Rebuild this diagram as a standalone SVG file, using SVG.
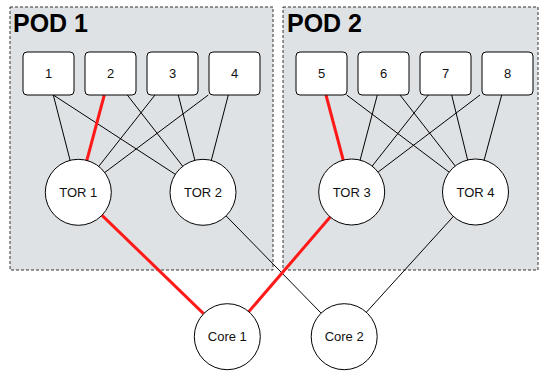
<svg xmlns="http://www.w3.org/2000/svg" width="540" height="373" viewBox="0 0 540 373">
  <style>
    .pod { fill: #dfe2e4; stroke: #333; stroke-width: 1; stroke-dasharray: 3 2; }
    .pod-label { font-family: "Liberation Sans", Arial, sans-serif; font-weight: bold; font-size: 25px; fill: #000; }
    .srv rect { fill: #fff; stroke: #000; stroke-width: 1; }
    .node circle { fill: #fff; stroke: #000; stroke-width: 1; }
    .lbl { font-family: "Liberation Sans", Arial, sans-serif; font-size: 13px; fill: #111; text-anchor: middle; dominant-baseline: central; }
    .link { stroke: #000; stroke-width: 1; fill: none; }
    .hot { stroke: #ff1a1a; stroke-width: 3; fill: none; }
  </style>

  <!-- pod containers -->
  <g id="pod1">
    <rect class="pod" x="10" y="7" width="263" height="263"/>
    <text class="pod-label" x="13" y="32">POD 1</text>
  </g>
  <g id="pod2">
    <rect class="pod" x="283" y="7" width="255" height="263"/>
    <text class="pod-label" x="287" y="32">POD 2</text>
  </g>

  <!-- links (drawn towards node centres, nodes painted on top) -->
  <g id="connectors">
    <!-- pod 1: servers to TOR 1 / TOR 2 -->
    <line class="link" x1="53.3" y1="95" x2="78.3" y2="192.3"/>
    <line class="link" x1="53.3" y1="95" x2="203" y2="192.3"/>
    <line class="link" x1="127.3" y1="95" x2="203" y2="192.3"/>
    <line class="link" x1="155" y1="95" x2="78.3" y2="192.3"/>
    <line class="link" x1="178.3" y1="95" x2="203" y2="192.3"/>
    <line class="link" x1="208.3" y1="95" x2="78.3" y2="192.3"/>
    <line class="link" x1="228.3" y1="95" x2="203" y2="192.3"/>
    <!-- pod 2: servers to TOR 3 / TOR 4 -->
    <line class="link" x1="346.7" y1="95" x2="475.5" y2="192"/>
    <line class="link" x1="377.3" y1="95" x2="351.7" y2="192"/>
    <line class="link" x1="400" y1="95" x2="475.5" y2="192"/>
    <line class="link" x1="428.3" y1="95" x2="351.7" y2="192"/>
    <line class="link" x1="451.7" y1="95" x2="475.5" y2="192"/>
    <line class="link" x1="480" y1="95" x2="351.7" y2="192"/>
    <line class="link" x1="501.7" y1="95" x2="475.5" y2="192"/>
    <!-- TORs to core -->
    <line class="link" x1="203" y1="192.3" x2="344.2" y2="336.7"/>
    <line class="link" x1="475.5" y1="192" x2="344.2" y2="336.7"/>
    <!-- highlighted path -->
    <line class="hot" x1="104.3" y1="95" x2="78.3" y2="192.3"/>
    <line class="hot" x1="78.3" y1="192.3" x2="227.3" y2="336.7"/>
    <line class="hot" x1="351.7" y1="192" x2="227.3" y2="336.7"/>
    <line class="hot" x1="326" y1="95" x2="351.7" y2="192"/>
  </g>

  <!-- servers -->
  <g id="srv1" class="srv"><rect x="23" y="52" width="51" height="43" rx="4"/><text class="lbl" x="48.5" y="73.5">1</text></g>
  <g id="srv2" class="srv"><rect x="85" y="52" width="51" height="43" rx="4"/><text class="lbl" x="110.5" y="73.5">2</text></g>
  <g id="srv3" class="srv"><rect x="147" y="52" width="51" height="43" rx="4"/><text class="lbl" x="172.5" y="73.5">3</text></g>
  <g id="srv4" class="srv"><rect x="209" y="52" width="51" height="43" rx="4"/><text class="lbl" x="234.5" y="73.5">4</text></g>
  <g id="srv5" class="srv"><rect x="296" y="52" width="51" height="43" rx="4"/><text class="lbl" x="321.5" y="73.5">5</text></g>
  <g id="srv6" class="srv"><rect x="358" y="52" width="51" height="43" rx="4"/><text class="lbl" x="383.5" y="73.5">6</text></g>
  <g id="srv7" class="srv"><rect x="420" y="52" width="51" height="43" rx="4"/><text class="lbl" x="445.5" y="73.5">7</text></g>
  <g id="srv8" class="srv"><rect x="482" y="52" width="51" height="43" rx="4"/><text class="lbl" x="507.5" y="73.5">8</text></g>

  <!-- top-of-rack switches -->
  <g id="tor1" class="node"><circle cx="78.3" cy="192.3" r="33"/><text class="lbl" x="78.3" y="192.3">TOR 1</text></g>
  <g id="tor2" class="node"><circle cx="203" cy="192.3" r="33"/><text class="lbl" x="203" y="192.3">TOR 2</text></g>
  <g id="tor3" class="node"><circle cx="351.7" cy="192" r="33"/><text class="lbl" x="351.7" y="192">TOR 3</text></g>
  <g id="tor4" class="node"><circle cx="475.5" cy="192" r="33"/><text class="lbl" x="475.5" y="192">TOR 4</text></g>

  <!-- core switches -->
  <g id="core1" class="node"><circle cx="227.3" cy="336.7" r="33"/><text class="lbl" x="227.3" y="336.7">Core 1</text></g>
  <g id="core2" class="node"><circle cx="344.2" cy="336.7" r="33"/><text class="lbl" x="344.2" y="336.7">Core 2</text></g>
</svg>
